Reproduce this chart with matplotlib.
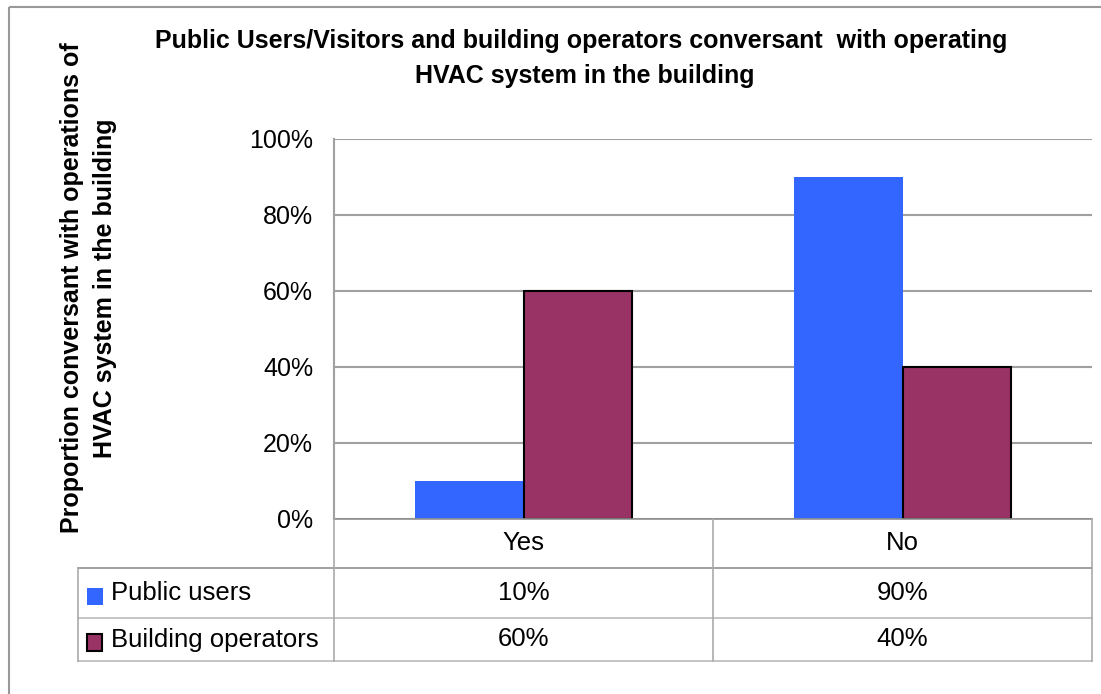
import matplotlib.pyplot as plt
from matplotlib.patches import Rectangle

# survey results: share answering Yes / No
categories = ['Yes', 'No']
public_users = [0.10, 0.90]
building_operators = [0.60, 0.40]
series_names = ['Public users', 'Building operators']
yticks = [0, 0.2, 0.4, 0.6, 0.8, 1.0]

BLUE = '#3366ff'
PLUM = '#993366'
GRID = '#a0a0a0'
FONT = 'Liberation Sans'

W, H = 1101, 694
fig = plt.figure(figsize=(W / 100, H / 100), dpi=100)

def fx(px):
    return px / W

def fy(py):
    return 1 - py / H

# plot area in pixel terms
left, right, top, bottom = 334, 1092, 139, 519
ax = fig.add_axes([fx(left), fy(bottom), fx(right - left), (bottom - top) / H])

x = [i + 0.5 for i in range(len(categories))]
bw = 0.287
ax.bar([v - bw / 2 for v in x], public_users, bw, color=BLUE, linewidth=0, zorder=3)
ax.bar([v + bw / 2 for v in x], building_operators, bw, color=PLUM,
       edgecolor='black', linewidth=1.5, zorder=3)

ax.set_xlim(0, len(categories))
ax.set_ylim(0, 1.0)
ax.set_yticks(yticks)
ax.set_yticklabels(['%d%%' % round(t * 100) for t in yticks],
                   fontsize=18, family=FONT)
ax.tick_params(axis='y', length=0, pad=15)
ax.set_xticks([])
ax.grid(axis='y', color=GRID, linewidth=1.5, zorder=0)
ax.set_axisbelow(True)
for s in ['top', 'right', 'bottom']:
    ax.spines[s].set_visible(False)
ax.spines['left'].set_color(GRID)
ax.spines['left'].set_linewidth(1.5)
ax.spines['left'].set_zorder(4)

# overlay in pixel coordinates for table, titles and frame
ov = fig.add_axes([0, 0, 1, 1], zorder=5)
ov.set_xlim(0, W)
ov.set_ylim(H, 0)
ov.axis('off')
ov.patch.set_alpha(0)

ov.add_patch(Rectangle((9, 7), W + 5, H + 5, fill=False, edgecolor='#999999', linewidth=1.5))

# data table under the plot
t_left = 78
col_edges = [334, 713, 1092]
row_edges = [519, 568, 618, 661]
lw = 1.2
ov.plot([left, right], [519, 519], color='#909090', lw=lw)
ov.plot([t_left, right], [568, 568], color='#909090', lw=lw)
ov.plot([t_left, right], [618, 618], color='#bbbbbb', lw=lw)
ov.plot([t_left, right], [661, 661], color='#bbbbbb', lw=lw)
ov.plot([t_left, t_left], [568, 661], color='#aaaaaa', lw=lw)
for cx in col_edges:
    ov.plot([cx, cx], [519, 661], color='#aaaaaa', lw=lw)

tfont = dict(fontsize=18.5, family=FONT, va='center')
for i, c in enumerate(categories):
    cx = (col_edges[i] + col_edges[i + 1]) / 2
    ov.text(cx, (519 + 568) / 2, c, ha='center', **tfont)
    ov.text(cx, (568 + 618) / 2, '%d%%' % round(public_users[i] * 100), ha='center', **tfont)
    ov.text(cx, (618 + 661) / 2, '%d%%' % round(building_operators[i] * 100), ha='center', **tfont)

ov.add_patch(Rectangle((87, 588), 16, 17, facecolor=BLUE, edgecolor='none'))
ov.add_patch(Rectangle((87, 634), 15, 17, facecolor=PLUM, edgecolor='black', linewidth=1.5))
ov.text(111, (568 + 618) / 2, series_names[0], ha='left', **tfont)
ov.text(111, (618 + 661) / 2, series_names[1], ha='left', **tfont)

# chart title
ov.text(581, 48, 'Public Users/Visitors and building operators conversant  with operating',
        ha='center', va='baseline', fontsize=18, fontweight='bold', family=FONT)
ov.text(585, 83, 'HVAC system in the building',
        ha='center', va='baseline', fontsize=18, fontweight='bold', family=FONT)

# value axis title
ov.text(72, 288, 'Proportion conversant with operations of',
        ha='center', va='center', rotation=90, fontsize=18, fontweight='bold', family=FONT)
ov.text(105, 288, 'HVAC system in the building',
        ha='center', va='center', rotation=90, fontsize=18, fontweight='bold', family=FONT)

fig.savefig('out.png', dpi=100)
